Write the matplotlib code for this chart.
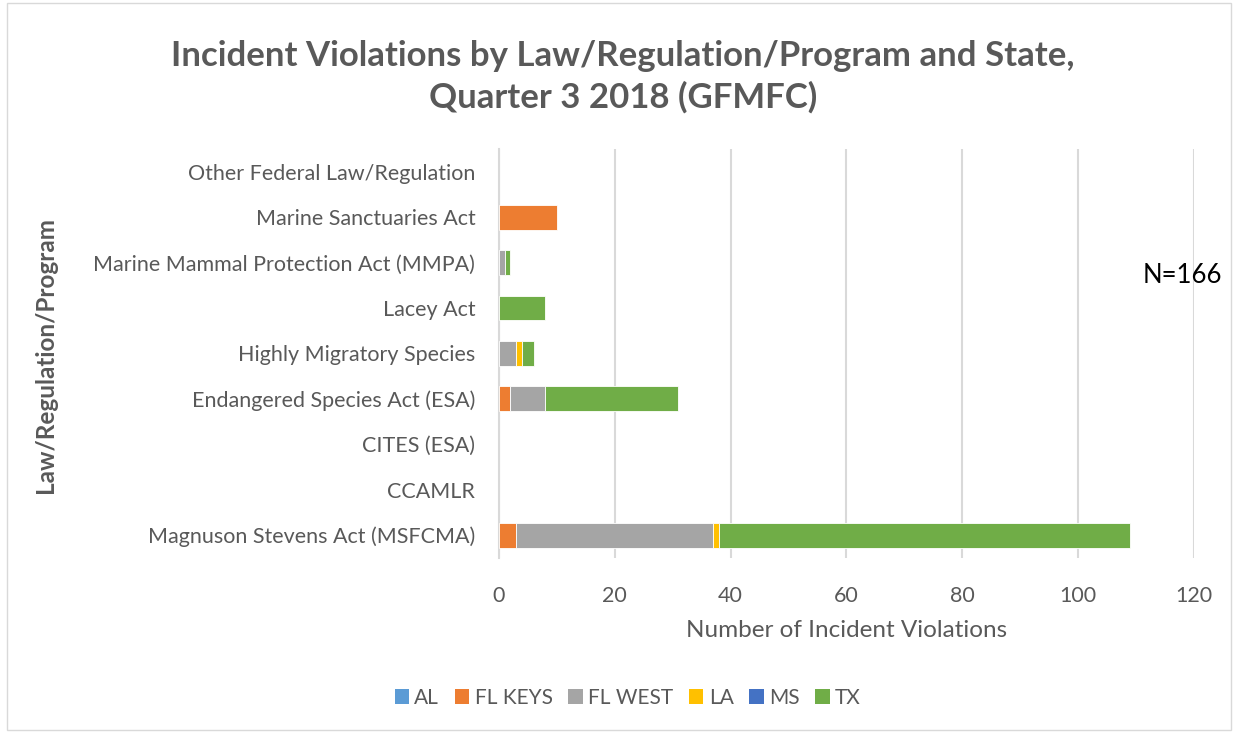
import matplotlib.pyplot as plt
import numpy as np

plt.rcParams['font.family'] = ['Lato', 'DejaVu Sans']

categories = ['Magnuson Stevens Act (MSFCMA)', 'CCAMLR', 'CITES (ESA)',
              'Endangered Species Act (ESA)', 'Highly Migratory Species',
              'Lacey Act', 'Marine Mammal Protection Act (MMPA)',
              'Marine Sanctuaries Act', 'Other Federal Law/Regulation']
states = ['AL', 'FL KEYS', 'FL WEST', 'LA', 'MS', 'TX']
al = [0, 0, 0, 0, 0, 0, 0, 0, 0]
fl_keys = [3, 0, 0, 2, 0, 0, 0, 10, 0]
fl_west = [34, 0, 0, 6, 3, 0, 1, 0, 0]
la = [1, 0, 0, 0, 1, 0, 0, 0, 0]
ms = [0, 0, 0, 0, 0, 0, 0, 0, 0]
tx = [71, 0, 0, 23, 2, 8, 1, 0, 0]
colors = ['#5B9BD5', '#ED7D31', '#A5A5A5', '#FFC000', '#4472C4', '#70AD47']

series = [al, fl_keys, fl_west, la, ms, tx]
txt = '#595959'

fig = plt.figure(figsize=(12.38, 7.34), dpi=100)
ax = fig.add_axes([0.403, 0.240, 0.5615, 0.557])

y = np.arange(len(categories))
left = np.zeros(len(categories))
for name, vals, c in zip(states, series, colors):
    vals = np.array(vals, dtype=float)
    # zero-width segments would leave a sliver of edge, so skip them
    nz = vals > 0
    ax.barh(y[nz], vals[nz], left=left[nz], height=0.55, color=c,
            edgecolor='white', linewidth=0.6, zorder=3)
    ax.barh([0], [0], color=c, label=name)  # legend entry
    left += vals

ax.set_xlim(0, 120)
ax.set_ylim(-0.5, len(categories) - 0.5)
ax.set_xticks(np.arange(0, 121, 20))
ax.set_yticks(y)
ax.set_yticklabels(categories)
ax.grid(axis='x', color='#D9D9D9', linewidth=1.5, zorder=0)
for s in ['top', 'right', 'bottom']:
    ax.spines[s].set_visible(False)
ax.spines['left'].set_color('#D9D9D9')
ax.spines['left'].set_linewidth(1.5)
ax.tick_params(axis='both', length=0, labelsize=15.5, colors=txt)
ax.tick_params(axis='x', pad=20)
ax.tick_params(axis='y', pad=17)

ax.set_xlabel('Number of Incident Violations', fontsize=17.5, color=txt, labelpad=10)
fig.text(0.037, 0.516, 'Law/Regulation/Program', rotation=90, fontsize=17.5,
         fontweight='bold', color=txt, ha='center', va='center')

fig.text(0.503, 0.895, 'Incident Violations by Law/Regulation/Program and State,\nQuarter 3 2018 (GFMFC)',
         ha='center', va='center', fontsize=25, fontweight='bold', color=txt,
         linespacing=1.35)

fig.text(0.955, 0.624, 'N=166', fontsize=18.5, color='black', ha='center', va='center')

fig.legend(*ax.get_legend_handles_labels(), loc='center', bbox_to_anchor=(0.507, 0.049),
           ncol=6, frameon=False, fontsize=15, handlelength=0.7, handleheight=0.7,
           columnspacing=0.75, handletextpad=0.25, labelcolor=txt)

fig.patches.append(plt.Rectangle((0.006, 0.006), 0.988, 0.99, transform=fig.transFigure,
                                 fill=False, edgecolor='#D9D9D9', linewidth=1))

fig.savefig('out.png', dpi=100)
